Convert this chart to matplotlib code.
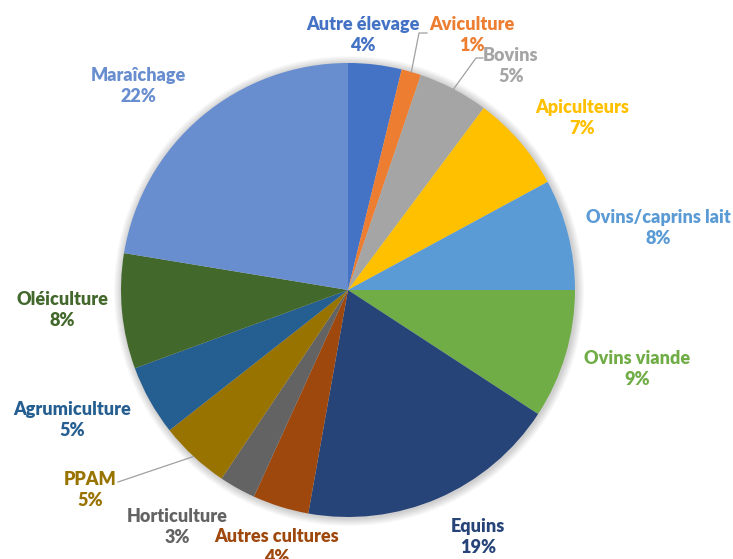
import matplotlib.pyplot as plt
from matplotlib.patches import Circle
import numpy as np

plt.rcParams['font.family'] = ['Lato', 'DejaVu Sans']

categories = ['Autre élevage', 'Aviculture', 'Bovins', 'Apiculteurs', 'Ovins/caprins lait',
              'Ovins viande', 'Equins', 'Autres cultures', 'Horticulture', 'PPAM',
              'Agrumiculture', 'Oléiculture', 'Maraîchage']
shares = [3.8, 1.4, 5.0, 6.9, 7.9, 9.2, 18.6, 4.0, 2.6, 5.0, 5.0, 8.2, 22.4]
colors = ['#4472C4', '#ED7D31', '#A5A5A5', '#FFC000', '#5B9BD5', '#70AD47', '#264478',
          '#9E480E', '#636363', '#997300', '#255E91', '#43682B', '#698ED0']
label_colors = ['#4472C4', '#ED7D31', '#A5A5A5', '#FFC000', '#5B9BD5', '#70AD47', '#264478',
                '#9E480E', '#636363', '#997300', '#255E91', '#43682B', '#698ED0']

# label centres in picture pixels (x, y from top)
label_pos = [(363, 35), (472, 35), (511, 66), (582, 118), (658, 228), (637, 369),
             (478, 537), (277, 547), (177, 527), (90, 490), (72, 420), (62, 310), (138, 86)]
leader = {'Aviculture': (419, 33, 427), 'Bovins': (476, 58, 483), 'PPAM': (118, 482, 118)}

W, H = 733, 559
cx, cy, R = 348, H - 290, 227

fig = plt.figure(figsize=(7.33, 5.59), dpi=100)
ax = fig.add_axes([0, 0, 1, 1])

# soft shadow around the pie
for k in range(8, 0, -1):
    ax.add_patch(Circle((cx + 1, cy - 1), R + k, color='#000000', alpha=0.025, lw=0, zorder=0))

wedges, _ = ax.pie(shares, colors=colors, startangle=90, counterclock=False,
                   center=(cx, cy), radius=R, wedgeprops=dict(linewidth=0))
for w in wedges:
    w.set_zorder(2)

ax.set_xlim(0, W)
ax.set_ylim(0, H)
ax.set_aspect('equal')
ax.axis('off')

for name, val, col, (lx, ly) in zip(categories, shares, label_colors, label_pos):
    ax.text(lx, H - ly, f'{name}\n{round(val):d}%', ha='center', va='center',
            color=col, fontsize=13, fontweight='heavy', linespacing=1.3, zorder=5)

cum = np.cumsum(shares) - np.array(shares) / 2
for i, name in enumerate(categories):
    if name in leader:
        ang = np.deg2rad(90 - cum[i] / 100 * 360)
        px, py = cx + R * np.cos(ang), cy + R * np.sin(ang)
        x0, y0, x1 = leader[name]
        ax.plot([px, x0, x1], [py, H - y0, H - y0], color='#A0A0A0', lw=0.9, zorder=4)

plt.savefig('out.png', dpi=100)
